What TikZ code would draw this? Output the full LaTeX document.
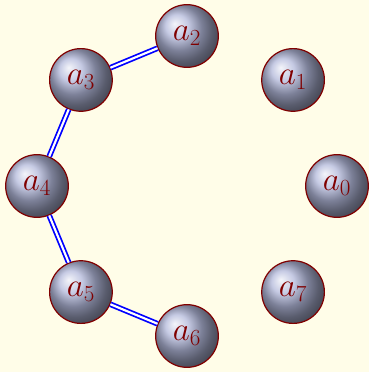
\documentclass[tikz,border=0pt]{standalone}
\usetikzlibrary{shadings}
\definecolor{bg}{RGB}{255,253,232}
\definecolor{rim}{RGB}{128,0,0}
\definecolor{ballc}{RGB}{178,184,218}
\tikzset{
  ballnode/.style={circle, minimum size=47pt, inner sep=0pt, draw=rim, line width=0.9pt,
    ball color=ballc, text=rim, font=\fontsize{23}{27}\selectfont},
  link/.style={draw=blue, double=white, double distance=1.6pt, line width=1.3pt}
}
\begin{document}
\begin{tikzpicture}[x=0.75pt,y=-0.75pt]
\fill[bg] (0,0) rectangle (369,372);
\useasboundingbox (0,0) rectangle (369,372);
\foreach \i in {0,...,7}{
  \node[ballnode] (a\i) at ({187+150*cos(45*\i)},{186-150*sin(45*\i)}) {$a_{\i}$};
}
\draw[link] (a2) -- (a3);
\draw[link] (a3) -- (a4);
\draw[link] (a4) -- (a5);
\draw[link] (a5) -- (a6);
\end{tikzpicture}
\end{document}
